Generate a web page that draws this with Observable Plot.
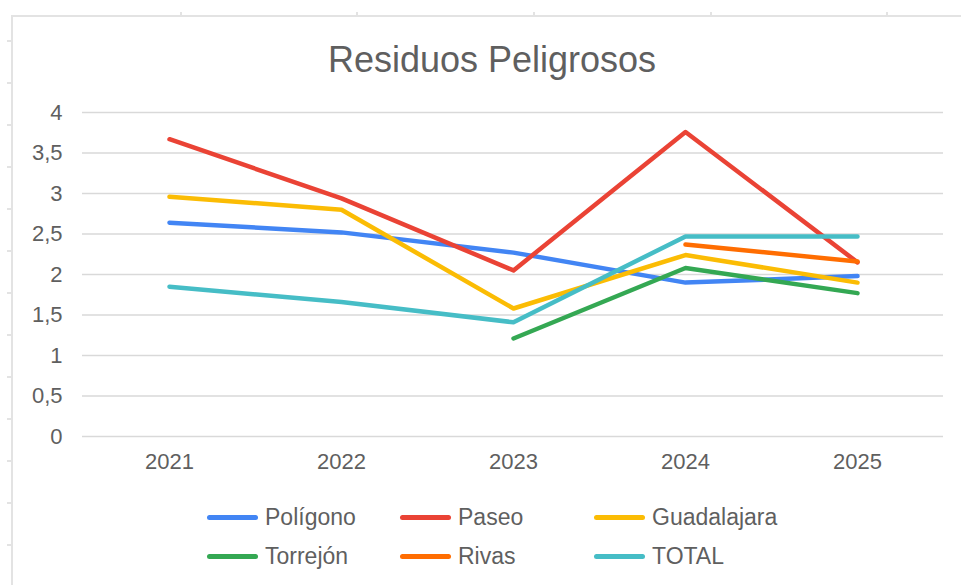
<!DOCTYPE html>
<html>
<head>
<meta charset="utf-8">
<script src="https://cdn.jsdelivr.net/npm/d3@7"></script>
<script src="https://cdn.jsdelivr.net/npm/@observablehq/plot@0.6"></script>
<style>
  html, body { margin: 0; padding: 0; background: #fff; }
  #wrap { position: relative; width: 961px; height: 585px; overflow: hidden; font-family: "Liberation Sans", Arial, sans-serif; }
  #frameTop { position: absolute; left: 11px; top: 15px; width: 960px; height: 2px; background: #e3e3e3; }
  #frameLeft { position: absolute; left: 11px; top: 15px; width: 2px; height: 580px; background: #e3e3e3; }
  .tk { position: absolute; background: #e3e3e3; }
  #title { position: absolute; left: 0; top: 42px; width: 984px; text-align: center; font-size: 36px; line-height: 36px; color: #5f5f5f; }
  .lg { position: absolute; display: flex; align-items: center; height: 30px; font-size: 23px; color: #5f5f5f; white-space: nowrap; }
  .sw { display: inline-block; width: 51px; height: 5px; border-radius: 3px; margin-right: 7px; }
  #chart { position: absolute; left: 0; top: 0; }
</style>
</head>
<body>
<div id="wrap">
  <div id="frameTop"></div>
  <div id="frameLeft"></div>
  <div id="chart"></div>
  <div id="title">Residuos Peligrosos</div>
</div>
<script>
// ---- data ----
const years = ["2021", "2022", "2023", "2024", "2025"];
const seriesNames = ["Polígono", "Paseo", "Guadalajara", "Torrejón", "Rivas", "TOTAL"];
const seriesColors = ["#4285F4", "#EA4335", "#FBBC04", "#34A853", "#FF6D01", "#46BDC6"];
const poligono    = [2.64, 2.52, 2.27, 1.90, 1.98];
const paseo       = [3.67, 2.94, 2.05, 3.76, 2.15];
const guadalajara = [2.96, 2.80, 1.58, 2.24, 1.90];
const torrejon    = [null, null, 1.21, 2.08, 1.77];
const rivas       = [null, null, null, 2.37, 2.16];
const total       = [1.85, 1.66, 1.41, 2.47, 2.47];
const yTicks = [0, 0.5, 1, 1.5, 2, 2.5, 3, 3.5, 4];

const seriesValues = [poligono, paseo, guadalajara, torrejon, rivas, total];
const rows = seriesNames.flatMap((name, i) =>
  years.map((year, j) => ({ series: name, year, value: seriesValues[i][j] }))
);

// ---- decorative sheet frame ticks ----
const wrap = document.getElementById("wrap");
[180, 356, 533, 710, 886].forEach(x => {
  const d = document.createElement("div");
  d.className = "tk";
  Object.assign(d.style, { left: x + "px", top: "12px", width: "2px", height: "4px" });
  wrap.appendChild(d);
});
[40, 82, 124, 166, 208, 250, 292, 334, 376, 418, 460, 502, 544].forEach(y => {
  const d = document.createElement("div");
  d.className = "tk";
  Object.assign(d.style, { left: "7px", top: y + "px", width: "5px", height: "2px" });
  wrap.appendChild(d);
});

// ---- chart ----
const chart = Plot.plot({
  width: 961,
  height: 585,
  marginTop: 112,
  marginBottom: 149,
  marginLeft: 82,
  marginRight: 18,
  style: { fontFamily: "'Liberation Sans', Arial, sans-serif", fontSize: "22px", color: "#5f5f5f", background: "transparent", overflow: "visible" },
  x: { type: "point", domain: years, padding: 0.5, label: null },
  y: { domain: [0, 4], label: null },
  color: { domain: seriesNames, range: seriesColors },
  marks: [
    Plot.gridY(yTicks, { stroke: "#d9d9d9", strokeOpacity: 1, strokeWidth: 1.5 }),
    Plot.axisY(yTicks, { tickSize: 0, tickPadding: 20, fontSize: 22, tickFormat: d => String(d).replace(".", ","), label: null }),
    Plot.axisX({ tickSize: 0, tickPadding: 17, fontSize: 22, label: null }),
    Plot.line(rows, { x: "year", y: "value", z: "series", stroke: "series", strokeWidth: 4.5, strokeLinecap: "round", strokeLinejoin: "round" })
  ]
});
document.getElementById("chart").appendChild(chart);

// ---- legend ----
const legendPos = [[207, 502], [400, 502], [594, 502], [207, 541], [400, 541], [594, 541]];
seriesNames.forEach((name, i) => {
  const item = document.createElement("div");
  item.className = "lg";
  item.style.left = legendPos[i][0] + "px";
  item.style.top = legendPos[i][1] + "px";
  const sw = document.createElement("span");
  sw.className = "sw";
  sw.style.background = seriesColors[i];
  item.appendChild(sw);
  item.appendChild(document.createTextNode(name));
  wrap.appendChild(item);
});
</script>
</body>
</html>
